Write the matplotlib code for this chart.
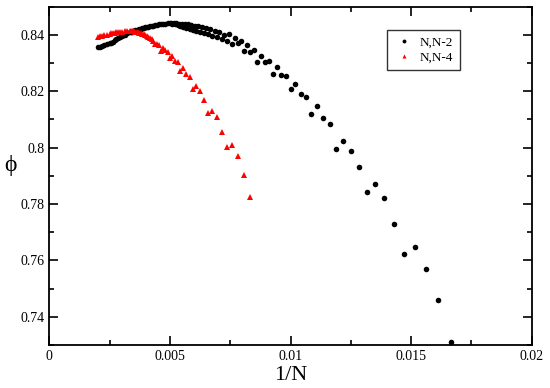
import matplotlib
matplotlib.use("Agg")
import matplotlib.pyplot as plt

plt.rcParams['font.family'] = ['Liberation Serif', 'DejaVu Serif']
plt.rcParams['mathtext.fontset'] = 'stix'

# N,N-2 series: system size N and packing fraction phi
n_black = [60, 62, 64, 66, 68, 70, 72, 74, 76, 78, 80, 82, 84, 86, 88, 90,
           92, 94, 96, 98, 100, 102, 104, 106, 108, 110, 112, 114, 116, 118,
           120, 122, 124, 126, 128, 130, 132, 134, 136, 138, 140, 142, 144,
           146, 148, 150, 152, 154, 156, 158, 160, 162, 164, 166, 168, 170,
           172, 174, 176, 178, 180, 182, 184, 186, 188, 190, 192, 194, 196,
           198, 200, 204, 208, 212, 216, 220, 224, 228, 232, 236, 240, 244,
           248, 252, 256, 260, 264, 268, 272, 276, 280, 284, 288, 292, 296,
           300, 310, 320, 330, 340, 350, 360, 370, 380, 390, 400, 420, 440,
           460, 480, 500]
phi_black = [0.7310, 0.7461, 0.7571, 0.7649, 0.7623, 0.7728, 0.7822, 0.7871,
             0.7842, 0.7932, 0.7988, 0.8024, 0.7996, 0.8083, 0.8106, 0.8147,
             0.8120, 0.8181, 0.8190, 0.8226, 0.8207, 0.8254, 0.8258, 0.8285,
             0.8261, 0.8306, 0.8304, 0.8326, 0.8305, 0.8345, 0.8338, 0.8364,
             0.8344, 0.8379, 0.8370, 0.8390, 0.8367, 0.8402, 0.8380, 0.8400,
             0.8384, 0.8409, 0.8392, 0.8414, 0.8397, 0.8420, 0.8402, 0.8424,
             0.8406, 0.8428, 0.8410, 0.8431, 0.8414, 0.8433, 0.8417, 0.8435,
             0.8420, 0.8437, 0.8424, 0.8438, 0.8428, 0.8439, 0.8432, 0.8440,
             0.8436, 0.8441, 0.8439, 0.8441, 0.8440, 0.8441, 0.8441, 0.8441,
             0.8440, 0.8440, 0.8439, 0.8437, 0.8436, 0.8435, 0.8433, 0.8432,
             0.8431, 0.8429, 0.8428, 0.8427, 0.8425, 0.8423, 0.8422, 0.8420,
             0.8419, 0.8417, 0.8416, 0.8414, 0.8413, 0.8412, 0.8411, 0.8410,
             0.8405, 0.8401, 0.8397, 0.8393, 0.8389, 0.8385, 0.8381, 0.8376,
             0.8373, 0.8370, 0.8366, 0.8363, 0.8360, 0.8358, 0.8356]

# N,N-4 series
n_red = [120, 124, 128, 132, 136, 140, 144, 148, 152, 156, 160, 164, 168,
         172, 176, 180, 184, 188, 192, 196, 200, 204, 208, 212, 216, 220,
         224, 228, 232, 236, 240, 244, 248, 252, 256, 260, 264, 268, 272,
         276, 280, 284, 288, 292, 296, 300, 310, 320, 330, 340, 350, 360,
         370, 380, 390, 400, 420, 440, 460, 480, 500]
phi_red = [0.7826, 0.7904, 0.7970, 0.8009, 0.8003, 0.8057, 0.8108, 0.8131,
           0.8122, 0.8169, 0.8200, 0.8219, 0.8207, 0.8250, 0.8261, 0.8281,
           0.8271, 0.8303, 0.8308, 0.8326, 0.8317, 0.8340, 0.8348, 0.8352,
           0.8344, 0.8364, 0.8366, 0.8368, 0.8377, 0.8385, 0.8389, 0.8392,
           0.8396, 0.8399, 0.8402, 0.8404, 0.8406, 0.8408, 0.8410, 0.8411,
           0.8412, 0.8413, 0.8414, 0.8414, 0.8414, 0.8414, 0.8414, 0.8413,
           0.8412, 0.8411, 0.8410, 0.8409, 0.8408, 0.8406, 0.8405, 0.8404,
           0.8401, 0.8399, 0.8397, 0.8395, 0.8393]

xticks = [0, 0.005, 0.01, 0.015, 0.02]
xtick_labels = ['0', '0.005', '0.01', '0.015', '0.02']
yticks = [0.74, 0.76, 0.78, 0.80, 0.82, 0.84]
ytick_labels = ['0.74', '0.76', '0.78', '0.8', '0.82', '0.84']

x_black = [1.0 / n for n in n_black]
x_red = [1.0 / n for n in n_red]

fig = plt.figure(figsize=(5.5, 3.88), dpi=100)
ax = fig.add_axes([0.0897, 0.1108, 0.877, 0.8719])

ax.plot(x_black, phi_black, linestyle='none', marker='o', markersize=4,
        color='black', markeredgewidth=0, label='N,N-2')
ax.plot(x_red, phi_red, linestyle='none', marker='^', markersize=4.2,
        color='red', markeredgewidth=0, label='N,N-4')

ax.set_xlim(0, 0.02)
ax.set_ylim(0.73, 0.85)
ax.set_xticks(xticks)
ax.set_xticklabels(xtick_labels)
ax.set_yticks(yticks)
ax.set_yticklabels(ytick_labels)
ax.set_xticks([0.0025, 0.0075, 0.0125, 0.0175], minor=True)
ax.set_yticks([0.73, 0.75, 0.77, 0.79, 0.81, 0.83, 0.85], minor=True)

ax.tick_params(which='both', direction='in', top=True, right=True,
               labelsize=10, width=1.2)
ax.tick_params(which='major', length=6.5)
ax.tick_params(which='minor', length=3.4)
for s in ax.spines.values():
    s.set_linewidth(1.3)

ax.set_xlabel('1/N', fontsize=16, labelpad=2)
ax.set_ylabel('\u03d5', fontsize=17, rotation=0, labelpad=14)
ax.yaxis.set_label_coords(-0.08, 0.5)

leg = ax.legend(loc='upper left', bbox_to_anchor=(0.70, 0.931), fontsize=9.5,
                frameon=True, fancybox=False, edgecolor='black',
                markerscale=0.7, handletextpad=0.4, borderpad=0.5,
                handlelength=1.6, labelspacing=0.2, borderaxespad=0)
leg.get_frame().set_linewidth(1.0)

fig.savefig('out.png', dpi=100)
